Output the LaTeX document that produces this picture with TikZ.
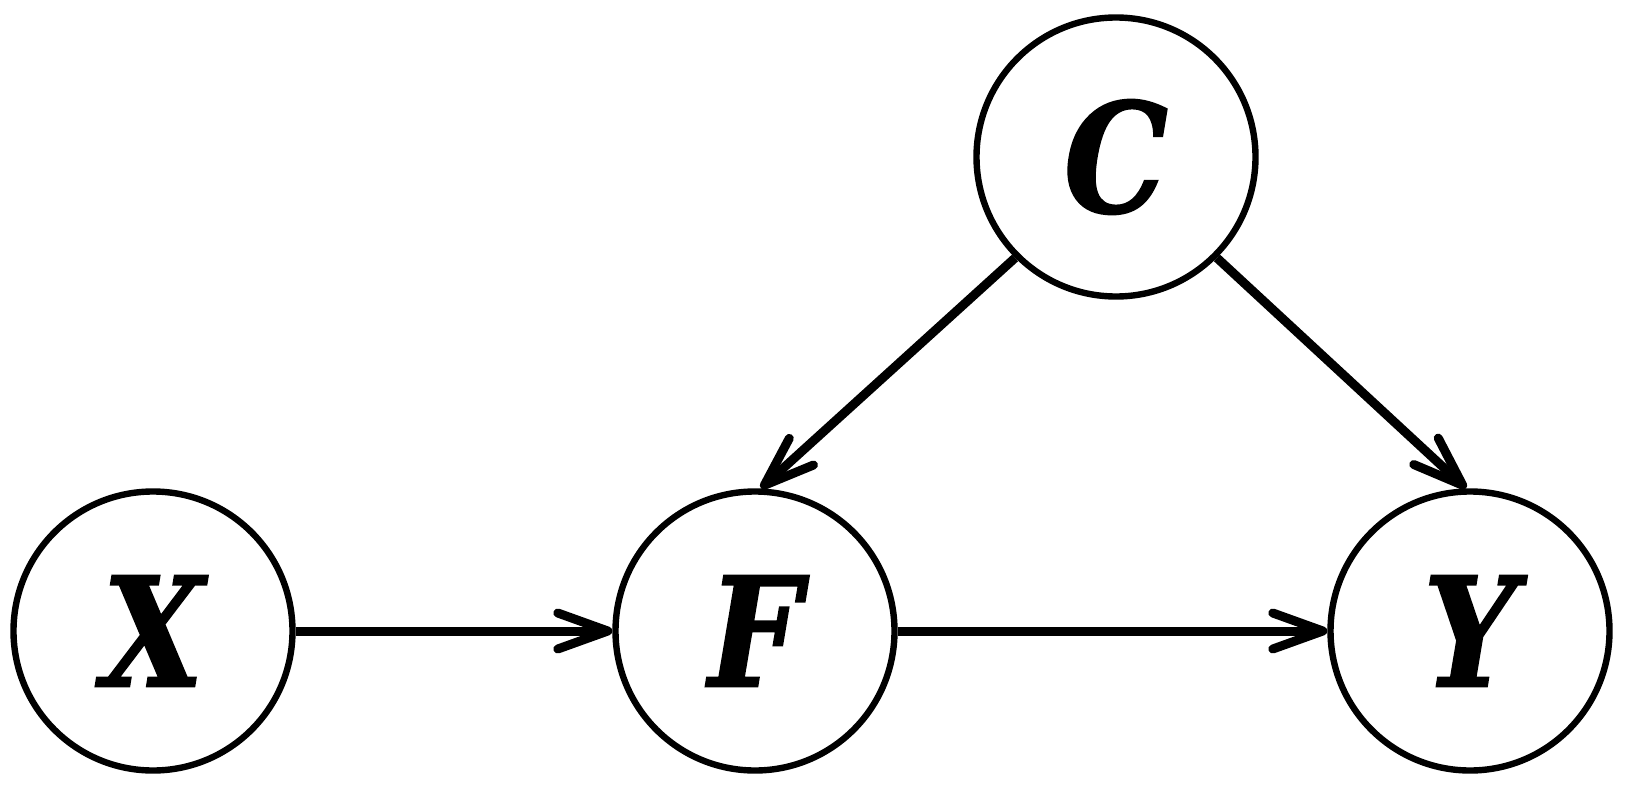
\documentclass[tikz,border=0pt]{standalone}
\usepackage{fontspec}
\newfontfamily\lblfont[FakeStretch=0.86,FakeBold=1.2]{DejaVu Serif}
\usetikzlibrary{arrows.meta}
\begin{document}
\begin{tikzpicture}[x=0.5pt,y=-0.5pt,
  var/.style={circle,draw,line width=3.2pt,minimum size=139.5pt,inner sep=0pt,
    font=\lblfont\fontsize{76}{80}\selectfont\bfseries\itshape},
  lbl/.style={yshift=-2pt},
  edge/.style={line width=4.5pt,-{Straight Barb[length=25pt,width=18pt,round]}}]
\useasboundingbox (0,0) rectangle (1626,797);
\node[var] (X) at (153,631) {\raisebox{-2pt}{X}};
\node[var] (F) at (755,631) {\raisebox{-2pt}{F}};
\node[var] (Y) at (1470,631) {\raisebox{-2pt}{Y}};
\node[var] (C) at (1116,157) {\raisebox{-2pt}{C}};
\draw[edge] (X) -- (F);
\draw[edge] (F) -- (Y);
\draw[edge] (C.south west) -- ([xshift=3pt]F.north);
\draw[edge] (C.south east) -- ([xshift=-2pt]Y.north);
\end{tikzpicture}
\end{document}
